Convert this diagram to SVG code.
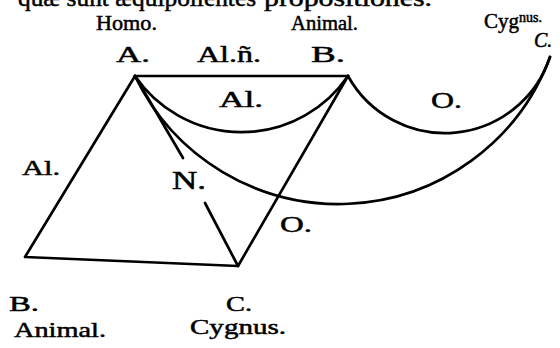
<svg xmlns="http://www.w3.org/2000/svg" width="560" height="348" viewBox="0 0 560 348">
<style>
.t{font-family:"Liberation Serif","DejaVu Serif",serif;fill:#000;stroke:#000;stroke-width:0.5}
.ln{fill:none;stroke:#000;stroke-width:2.7;stroke-linecap:round;stroke-linejoin:round}
</style>
<rect width="560" height="348" fill="#fff"/>
<g id="caption">
<text class="t" x="18" y="6" font-size="24" textLength="238" lengthAdjust="spacingAndGlyphs">quæ sunt æquipollentes</text>
<text class="t" x="264" y="6" font-size="24" textLength="168" lengthAdjust="spacingAndGlyphs">propositiones.</text>
</g>
<g id="connectors">
<path class="ln" d="M135,76 L348,76"/>
<path class="ln" d="M135,76 L25,257 L238,266 L348,76"/>
<path class="ln" d="M135,76 L183,158"/>
<path class="ln" d="M205,203 L238,266" stroke-width="3.6"/>
<path class="ln" d="M135,76 A129,129 0 0 0 348,76" stroke-width="2.3"/>
<path class="ln" d="M348,76 A110.7,110.7 0 0 0 550,57"/>
<path class="ln" d="M135,76 A225.7,225.7 0 0 0 550,57" stroke-width="2.9"/>
</g>
<g id="node-A">
<text class="t" x="96" y="30" font-size="22" textLength="61" lengthAdjust="spacingAndGlyphs">Homo.</text>
<text class="t" x="116" y="62" font-size="24" textLength="34" lengthAdjust="spacingAndGlyphs">A.</text>
</g>
<g id="edge-label-top">
<text class="t" x="197" y="62" font-size="24" textLength="64" lengthAdjust="spacingAndGlyphs">Al.ñ.</text>
</g>
<g id="node-B-top">
<text class="t" x="291" y="30" font-size="21" textLength="67" lengthAdjust="spacingAndGlyphs">Animal.</text>
<text class="t" x="311" y="62" font-size="24" textLength="34" lengthAdjust="spacingAndGlyphs">B.</text>
</g>
<g id="node-C-top">
<text class="t" x="484" y="28" font-size="21">Cyg<tspan font-size="14" dy="-6">nus.</tspan></text>
<text class="t" x="534" y="47" font-size="20" font-style="italic">C.</text>
</g>
<g id="labels">
<text class="t" x="219" y="107" font-size="23" textLength="44" lengthAdjust="spacingAndGlyphs">Al.</text>
<text class="t" x="431" y="108" font-size="24" textLength="31" lengthAdjust="spacingAndGlyphs">O.</text>
<text class="t" x="22" y="175" font-size="22" textLength="38" lengthAdjust="spacingAndGlyphs">Al.</text>
<text class="t" x="172" y="189" font-size="26" textLength="34" lengthAdjust="spacingAndGlyphs">N.</text>
<text class="t" x="280" y="232" font-size="24" textLength="32" lengthAdjust="spacingAndGlyphs">O.</text>
</g>
<g id="node-B-bottom">
<text class="t" x="9" y="311" font-size="22" textLength="30" lengthAdjust="spacingAndGlyphs">B.</text>
<text class="t" x="14" y="337" font-size="22" textLength="92" lengthAdjust="spacingAndGlyphs">Animal.</text>
</g>
<g id="node-C-bottom">
<text class="t" x="226" y="311" font-size="22" textLength="26" lengthAdjust="spacingAndGlyphs">C.</text>
<text class="t" x="190" y="334" font-size="22" textLength="96" lengthAdjust="spacingAndGlyphs">Cygnus.</text>
</g>
</svg>
